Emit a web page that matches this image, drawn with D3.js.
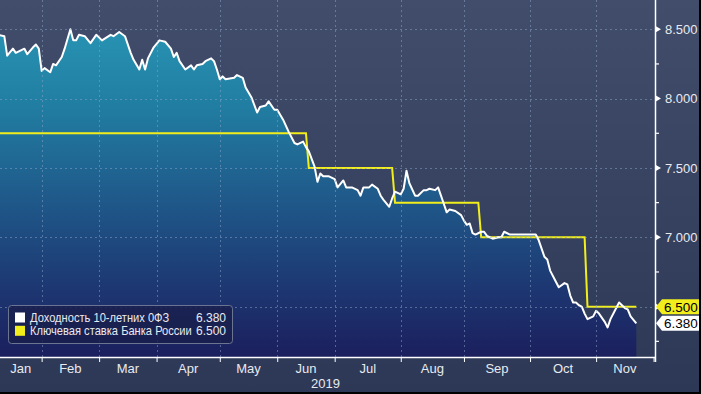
<!DOCTYPE html>
<html>
<head>
<meta charset="utf-8">
<script src="https://cdn.jsdelivr.net/npm/d3@7"></script>
<style>
  body { margin: 0; background: #000; }
  svg text { font-family: "Liberation Sans", Arial, sans-serif; }
</style>
</head>
<body>
<div id="chart"></div>
<script>
// Datos
const months = ["Jan", "Feb", "Mar", "Apr", "May", "Jun", "Jul", "Aug", "Sep", "Oct", "Nov"];
const monthDays = [20, 20, 20, 22, 20, 20, 23, 22, 23, 23, 20]; // dias de negociacion por mes
const yearLabel = "2019";

// Rendimiento OFZ 10 años (dia de negociacion desde 3 ene, valor)
const yieldDay = [
  5, 7, 8, 10, 11, 14, 15, 17, 18, 19,
  20, 21, 23, 24, 25, 27, 28, 30, 31, 32,
  33, 35, 37, 39, 41, 44, 45, 47, 49, 51,
  52, 54, 55, 56, 57, 59, 61, 63, 65, 66,
  67, 68, 70, 72, 73, 74, 76, 77, 79, 80,
  81, 82, 83, 84, 87, 88, 90, 91, 93, 95,
  96, 98, 99, 101, 102, 104, 106, 108, 109, 111,
  112, 113, 115, 116, 117, 118, 120, 122, 123, 125,
  126, 128, 130, 131, 132, 134, 135, 137, 138, 139,
  141, 142, 143, 145, 146, 147, 148, 150, 151, 153,
  154, 155, 157, 158, 159, 160, 161, 162, 164, 166,
  167, 168, 169, 170, 171, 173, 174, 175, 177, 179,
  180, 181, 183, 184, 186, 187, 189, 191, 192, 193,
  195, 196, 197, 199, 200, 202, 203, 204, 205, 206,
  207, 208, 209, 210, 212, 213, 214, 216, 217, 218,
  220, 221, 223, 224, 225, 227,
];
const yieldValue = [
  8.46, 8.45, 8.31, 8.36, 8.33, 8.36, 8.32, 8.37, 8.39, 8.36,
  8.20, 8.22, 8.19, 8.25, 8.24, 8.30, 8.36, 8.50, 8.42, 8.42,
  8.46, 8.45, 8.40, 8.46, 8.42, 8.46, 8.45, 8.48, 8.45, 8.33,
  8.28, 8.21, 8.28, 8.21, 8.29, 8.37, 8.42, 8.41, 8.36, 8.30,
  8.33, 8.27, 8.21, 8.24, 8.21, 8.24, 8.25, 8.27, 8.29, 8.27,
  8.21, 8.14, 8.16, 8.14, 8.15, 8.17, 8.15, 8.08, 8.01, 7.90,
  7.94, 7.95, 7.98, 7.92, 7.92, 7.85, 7.76, 7.68, 7.67, 7.69,
  7.65, 7.62, 7.51, 7.40, 7.46, 7.44, 7.44, 7.42, 7.36, 7.41,
  7.36, 7.36, 7.34, 7.30, 7.36, 7.36, 7.38, 7.35, 7.30, 7.27,
  7.22, 7.28, 7.33, 7.31, 7.35, 7.48, 7.39, 7.30, 7.30, 7.34,
  7.34, 7.35, 7.34, 7.36, 7.30, 7.24, 7.18, 7.20, 7.19, 7.16,
  7.12, 7.09, 7.10, 7.03, 7.02, 7.04, 7.04, 7.01, 6.99, 7.00,
  7.00, 7.04, 7.02, 7.02, 7.02, 7.02, 7.02, 7.02, 7.02, 6.98,
  6.86, 6.84, 6.76, 6.68, 6.64, 6.67, 6.66, 6.58, 6.53, 6.53,
  6.51, 6.50, 6.45, 6.41, 6.43, 6.47, 6.45, 6.39, 6.35, 6.41,
  6.49, 6.53, 6.49, 6.48, 6.43, 6.38,
];

// Ключевая ставка: ultimo dia con la tasa anterior y nuevo valor
const rateDay = [0, 112, 142, 172, 209];
const rateValue = [7.75, 7.5, 7.25, 7.0, 6.5];

const yTicks = [6.5, 7.0, 7.5, 8.0, 8.5];
const yMinorTicks = [6.25, 6.75, 7.25, 7.75, 8.25];
const seriesNames = ["Доходность 10-летних 0ФЗ", "Ключевая ставка Банка России"];

// Constantes
const width = 701;
const height = 394;
const plot = { left: 0, top: 0, right: 655, bottom: 357 };
const yellow = "#f2ee1c";
const textColor = "#e8eaf0";

const svg = d3.select("div#chart").append("svg")
  .attr("width", width).attr("height", height);
const defs = svg.append("defs");

const bgGrad = defs.append("linearGradient").attr("id", "bg")
  .attr("x1", 0).attr("y1", 0).attr("x2", 0).attr("y2", 1);
bgGrad.append("stop").attr("offset", 0).attr("stop-color", "#414d6b");
bgGrad.append("stop").attr("offset", 1).attr("stop-color", "#2c3855");

const areaGrad = defs.append("linearGradient").attr("id", "areaFill")
  .attr("gradientUnits", "userSpaceOnUse")
  .attr("x1", 0).attr("y1", plot.top).attr("x2", 0).attr("y2", plot.bottom);
[[0, "#2a9bb9"], [0.3, "#217da2"], [0.55, "#1f5a8b"], [0.8, "#1d3873"], [1, "#1b1f5d"]]
  .forEach(([o, c]) => areaGrad.append("stop").attr("offset", o).attr("stop-color", c));

defs.append("clipPath").attr("id", "plotClip").append("rect")
  .attr("x", plot.left).attr("y", plot.top)
  .attr("width", plot.right - plot.left).attr("height", plot.bottom - plot.top);

svg.append("rect").attr("width", width).attr("height", height).attr("fill", "url(#bg)");

// Escalas
const monthStart = d3.cumsum([0, ...monthDays]); // inicio de cada mes + 1 dic
const x = d3.scaleLinear().domain([5.5, 233.5]).range([plot.left, plot.right]);
const y = d3.scaleLinear().domain([6.137, 8.711]).range([plot.bottom, plot.top]);

const yieldData = yieldDay.map((d, i) => ({ day: d, value: yieldValue[i] }));
const lastDay = yieldDay[yieldDay.length - 1];
const rateData = [{ day: yieldDay[0], value: rateValue[0] }];
rateDay.slice(1).forEach((d, k) => {
  rateData.push({ day: d, value: rateValue[k] });
  rateData.push({ day: d + 1, value: rateValue[k + 1] });
});
rateData.push({ day: lastDay, value: rateValue[rateValue.length - 1] });

// Area y lineas
const plotGroup = svg.append("g").attr("clip-path", "url(#plotClip)");

plotGroup.append("path").datum(yieldData)
  .attr("fill", "url(#areaFill)")
  .attr("d", d3.area().x((d) => x(d.day)).y0(plot.bottom).y1((d) => y(d.value)));

// Rejilla
const gridGroup = svg.append("g")
  .attr("stroke", "rgba(140,165,200,0.5)").attr("stroke-dasharray", "2,3").attr("stroke-width", 1);
gridGroup.selectAll("line.h").data(yTicks).join("line").attr("class", "h")
  .attr("x1", plot.left).attr("x2", plot.right)
  .attr("y1", (d) => Math.round(y(d)) + 0.5).attr("y2", (d) => Math.round(y(d)) + 0.5);
gridGroup.selectAll("line.v").data(monthStart.slice(1, -1)).join("line").attr("class", "v")
  .attr("x1", (d) => Math.round(x(d)) + 0.5).attr("x2", (d) => Math.round(x(d)) + 0.5)
  .attr("y1", plot.top).attr("y2", plot.bottom);

plotGroup.append("path").datum(rateData)
  .attr("fill", "none").attr("stroke", yellow).attr("stroke-width", 2)
  .attr("d", d3.line().x((d) => x(d.day)).y((d) => y(d.value)));

plotGroup.append("path").datum(yieldData)
  .attr("fill", "none").attr("stroke", "#ffffff").attr("stroke-width", 2)
  .attr("stroke-linejoin", "round")
  .attr("d", d3.line().x((d) => x(d.day)).y((d) => y(d.value)));

// Eje X
const xAxisGroup = svg.append("g").attr("transform", `translate(0, ${plot.bottom})`);
xAxisGroup.call(d3.axisBottom(x).tickValues(monthStart.slice(1)).tickSize(5).tickFormat(""));
xAxisGroup.select(".domain").remove();
xAxisGroup.selectAll(".tick line").attr("stroke", "#ffffff");
xAxisGroup.append("line").attr("x1", plot.left).attr("x2", plot.right)
  .attr("y1", 0.5).attr("y2", 0.5).attr("stroke", "#ffffff").attr("stroke-width", 1.5);

xAxisGroup.selectAll("text.month").data(months).join("text").attr("class", "month")
  .attr("x", (d, i) => (Math.max(x(monthStart[i]), plot.left) + x(monthStart[i + 1])) / 2)
  .attr("y", 16).attr("text-anchor", "middle")
  .attr("fill", textColor).attr("font-size", 13).text((d) => d);
xAxisGroup.append("text").attr("x", (plot.left + plot.right) / 2 - 2).attr("y", 31)
  .attr("text-anchor", "middle").attr("fill", textColor).attr("font-size", 13).text(yearLabel);

// Eje Y (derecha)
const yAxisGroup = svg.append("g").attr("transform", `translate(${plot.right}, 0)`);
yAxisGroup.call(d3.axisRight(y).tickValues(yTicks).tickSize(0).tickPadding(10)
  .tickFormat(d3.format(".3f")));
yAxisGroup.select(".domain").remove();
yAxisGroup.selectAll(".tick text").attr("fill", textColor).attr("font-size", 13)
  .attr("font-family", "'Liberation Sans', Arial, sans-serif");
yAxisGroup.append("line").attr("x1", 0.5).attr("x2", 0.5)
  .attr("y1", plot.top).attr("y2", plot.bottom + 5).attr("stroke", "#ffffff").attr("stroke-width", 1.5);
yAxisGroup.selectAll("path.marker").data(yTicks).join("path").attr("class", "marker")
  .attr("d", (d) => `M0,${y(d) - 3.5}L6,${y(d)}L0,${y(d) + 3.5}Z`).attr("fill", "#ffffff");
yAxisGroup.selectAll("line.minor").data(yMinorTicks).join("line").attr("class", "minor")
  .attr("x1", 0).attr("x2", 4).attr("y1", (d) => y(d)).attr("y2", (d) => y(d))
  .attr("stroke", "#ffffff").attr("stroke-width", 1.2);

// Etiquetas de ultimo valor
const tags = [
  { value: rateValue[rateValue.length - 1], fill: yellow },
  { value: yieldValue[yieldValue.length - 1], fill: "#ffffff" },
];
const tagGroup = yAxisGroup.selectAll("g.tag").data(tags).join("g").attr("class", "tag")
  .attr("transform", (d) => `translate(0, ${y(d.value)})`);
tagGroup.append("path")
  .attr("d", "M1,0L7,-7.5L44,-7.5L44,7.5L7,7.5Z")
  .attr("fill", (d) => d.fill);
tagGroup.append("text").attr("x", 9).attr("dy", "0.36em")
  .attr("fill", "#000000").attr("font-size", 13.5).text((d) => d.value.toFixed(3));

// Leyenda
const legendGroup = svg.append("g").attr("transform", "translate(8, 305)");
legendGroup.append("rect").attr("x", 0.5).attr("y", 0.5).attr("width", 224).attr("height", 38)
  .attr("rx", 3).attr("fill", "rgba(25,32,78,0.85)").attr("stroke", "#6b7591");
const legendRows = legendGroup.selectAll("g.row").data(seriesNames).join("g").attr("class", "row")
  .attr("transform", (d, i) => `translate(0, ${12.5 + i * 13.3})`);
legendRows.append("rect").attr("x", 7).attr("y", -5).attr("width", 10).attr("height", 10)
  .attr("fill", (d, i) => (i === 0 ? "#ffffff" : yellow));
const legendValues = legendRows.append("text").attr("x", 218).attr("dy", "0.36em").attr("text-anchor", "end")
  .attr("fill", textColor).attr("font-size", 12)
  .text((d, i) => (i === 0 ? yieldValue[yieldValue.length - 1] : rateValue[rateValue.length - 1]).toFixed(3));
const legendLabels = legendRows.append("text").attr("dy", "0.36em")
  .attr("fill", textColor).attr("font-size", 12).text((d) => d);

// Estrechar las etiquetas para que quepan antes de los valores (fuente condensada)
const valueLeft = d3.min(legendValues.nodes(), (n) => n.getBBox().x);
const labelWidth = d3.max(legendLabels.nodes(), (n) => n.getComputedTextLength());
const squeeze = Math.min(1, (valueLeft - 22 - 4) / labelWidth);
legendLabels.attr("transform", `translate(22, 0) scale(${squeeze}, 1)`);

// Borde
svg.append("rect").attr("x", 699).attr("y", 0).attr("width", 2).attr("height", height).attr("fill", "#000");
svg.append("rect").attr("x", 0).attr("y", 392).attr("width", width).attr("height", 2).attr("fill", "#000");
</script>
</body>
</html>
